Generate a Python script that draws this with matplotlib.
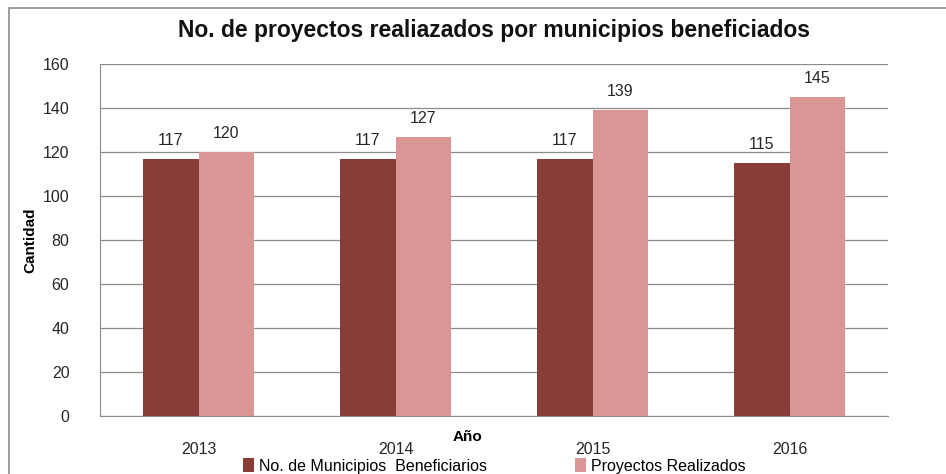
import numpy as np
import matplotlib.pyplot as plt
from matplotlib.patches import Rectangle

plt.rcParams['font.family'] = ['Liberation Sans', 'DejaVu Sans']

years = ['2013', '2014', '2015', '2016']
municipios = [117, 117, 117, 115]
proyectos = [120, 127, 139, 145]

c_dark = '#893d39'
c_pink = '#d99694'

fig = plt.figure(figsize=(9.46, 4.74), dpi=100)
ax = fig.add_axes([100 / 946, 1 - 416 / 474, 788 / 946, 352 / 474])

x = np.arange(len(years))
w = 0.284
b1 = ax.bar(x - w / 2, municipios, w, color=c_dark, label='No. de Municipios  Beneficiarios')
b2 = ax.bar(x + w / 2, proyectos, w, color=c_pink, label='Proyectos Realizados')

for bars in (b1, b2):
    for r in bars:
        ax.text(r.get_x() + r.get_width() / 2, r.get_height() + 5, str(int(r.get_height())),
                ha='center', va='bottom', fontsize=11.5, color='#262626')

ax.set_xlim(-0.5, 3.5)
ax.set_ylim(0, 160)
ax.set_yticks(range(0, 161, 20))
ax.set_xticks(x)
ax.set_xticklabels(years)
ax.tick_params(axis='both', length=0, labelsize=11.5, colors='#262626')
ax.tick_params(axis='x', pad=19)
ax.tick_params(axis='y', pad=22)
ax.grid(axis='y', color='#8c8c8c', linewidth=0.9)
ax.set_axisbelow(True)
for s in ('top', 'right'):
    ax.spines[s].set_visible(False)
ax.spines['left'].set_color('#8c8c8c')
ax.spines['bottom'].set_color('#8c8c8c')

ax.set_ylabel('Cantidad', fontsize=11, fontweight='bold', labelpad=4)
fig.text(467 / 946, 1 - 437 / 474, 'Año', ha='center', va='center', fontsize=11, fontweight='bold')

fig.suptitle('No. de proyectos realiazados por municipios beneficiados', x=494 / 946,
             y=1 - 30 / 474, va='center', fontsize=16.5, fontweight='bold', color='#111111')

ax.legend(loc='center', bbox_to_anchor=(0.5, -(466 - 416) / 352), ncol=2, frameon=False,
          fontsize=11.5, handlelength=0.7, handleheight=0.9, handletextpad=0.3,
          columnspacing=5.5)

fig.patches.append(Rectangle((9 / 946, -0.05), 1.2, 1 - 8 / 474 + 0.05, transform=fig.transFigure,
                             fill=False, edgecolor='#8c8c8c', linewidth=1.2))

fig.savefig('out.png', dpi=100)
